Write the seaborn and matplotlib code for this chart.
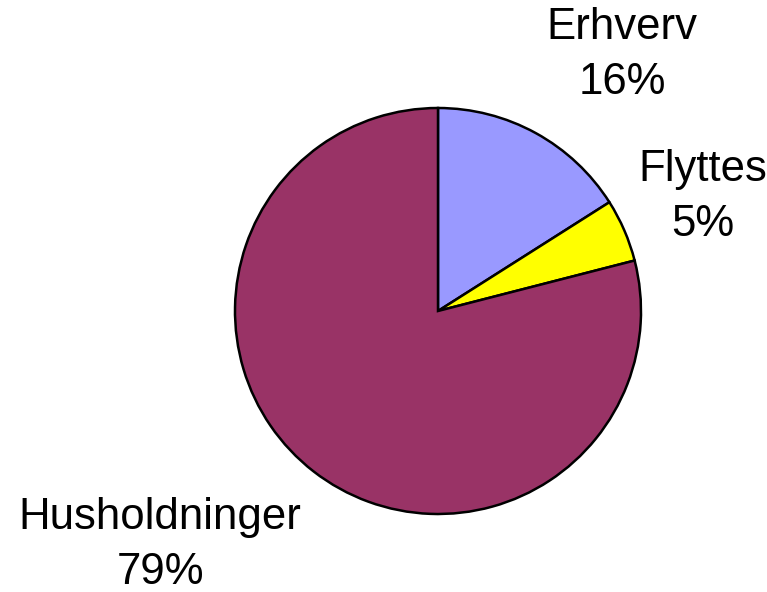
import matplotlib
matplotlib.use("Agg")
import matplotlib.pyplot as plt
import seaborn as sns

# Data
categories = ["Erhverv", "Flyttes", "Husholdninger"]
shares = [16, 5, 79]
colors = ["#9999FF", "#FFFF00", "#993366"]

sns.set_theme(style="white")
plt.rcParams['font.family'] = ['Liberation Sans', 'DejaVu Sans']

fig = plt.figure(figsize=(7.67, 5.92), dpi=100)
ax = fig.add_axes([0, 0, 1, 1])

ax.pie(shares, colors=colors, startangle=90, counterclock=False,
       wedgeprops={'edgecolor': 'black', 'linewidth': 1.8})

# label positions (pie radius = 1)
label_pos = [(0.906, 1.261), (1.305, 0.562), (-1.369, -1.153)]
for name, val, (x, y) in zip(categories, shares, label_pos):
    ax.text(x, y, f"{name}\n{val}%", ha='center', va='center',
            fontsize=31.5, linespacing=1.42, color='black')

ax.set_aspect('auto')
ax.set_xlim(-438 / 203, (767 - 438) / 203)
ax.set_ylim(-281 / 203, (592 - 281) / 203)
ax.axis('off')

fig.savefig("out.png", dpi=100)
